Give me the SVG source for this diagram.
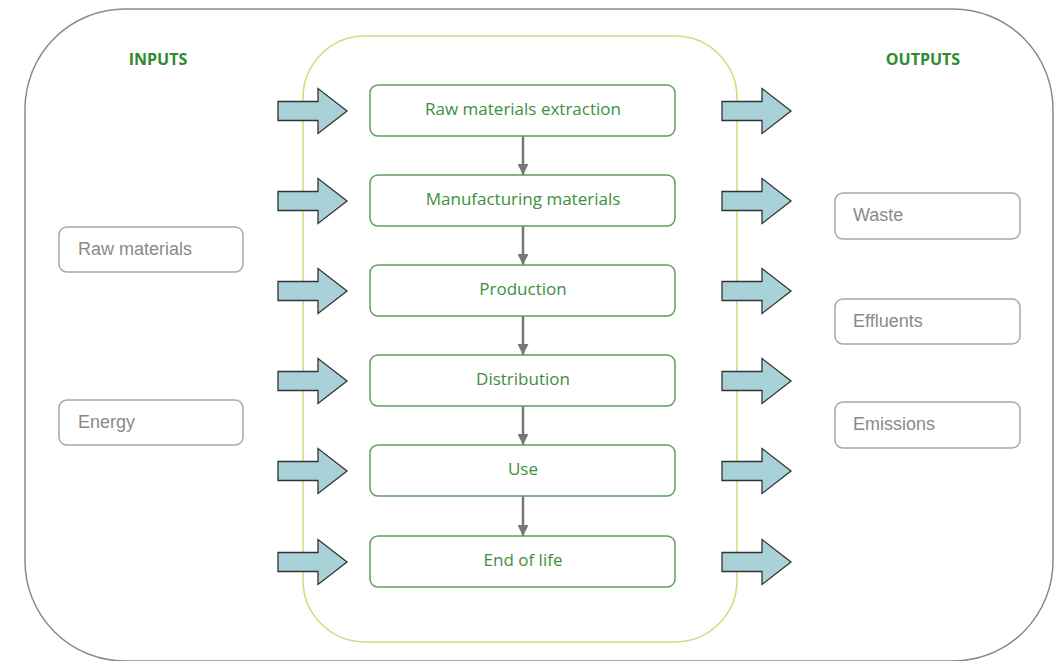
<svg xmlns="http://www.w3.org/2000/svg" width="1059" height="661" viewBox="0 0 1059 661">
<style>
.outer{fill:#fff;stroke:#8a8a8a;stroke-width:1.5}
.inner{fill:none;stroke:#cfdc80;stroke-width:1.5}
.step{fill:#fff;stroke:#5f9e5f;stroke-width:1.5}
.io{fill:#fff;stroke:#a8a8a8;stroke-width:1.5}
.steptxt{font-family:"Open Sans","Liberation Sans",sans-serif;font-size:17px;fill:#3d8f3d;text-anchor:middle}
.iotxt{font-family:"Liberation Sans",Arial,sans-serif;font-size:18px;fill:#8a8a8a}
.title{font-family:"Open Sans","Liberation Sans",sans-serif;font-size:16px;font-weight:bold;fill:#2e8b2e;text-anchor:middle}
.blk{fill:#a8d2d8;stroke:#333;stroke-width:1.3;stroke-linejoin:miter}
.conn{stroke:#777;stroke-width:2.5;fill:none}
</style>
<defs>
<marker id="ah" viewBox="0 0 10 10" refX="10" refY="5" markerWidth="4.4" markerHeight="4.4" orient="auto" markerUnits="strokeWidth">
<path d="M0,0 L10,5 L0,10 z" fill="#777"/>
</marker>
<path id="blockArrow" d="M0,-9.5 L40,-9.5 L40,-22.5 L69,0 L40,22.5 L40,9.5 L0,9.5 Z"/>
</defs>

<g id="frame">
<rect class="outer" x="25" y="9" width="1028" height="652" rx="100" ry="100"/>
<rect class="inner" x="303" y="36" width="434" height="606" rx="62" ry="62"/>
</g>

<g id="titles">
<text class="title" x="158" y="65">INPUTS</text>
<text class="title" x="923" y="65">OUTPUTS</text>
</g>

<g id="input-arrows">
<use href="#blockArrow" class="blk" x="278" y="111"/>
<use href="#blockArrow" class="blk" x="278" y="201"/>
<use href="#blockArrow" class="blk" x="278" y="291"/>
<use href="#blockArrow" class="blk" x="278" y="381"/>
<use href="#blockArrow" class="blk" x="278" y="471"/>
<use href="#blockArrow" class="blk" x="278" y="562"/>
</g>

<g id="output-arrows">
<use href="#blockArrow" class="blk" x="722" y="111"/>
<use href="#blockArrow" class="blk" x="722" y="201"/>
<use href="#blockArrow" class="blk" x="722" y="291"/>
<use href="#blockArrow" class="blk" x="722" y="381"/>
<use href="#blockArrow" class="blk" x="722" y="471"/>
<use href="#blockArrow" class="blk" x="722" y="562"/>
</g>

<g id="connectors">
<line class="conn" x1="523" y1="136" x2="523" y2="175" marker-end="url(#ah)"/>
<line class="conn" x1="523" y1="226" x2="523" y2="265" marker-end="url(#ah)"/>
<line class="conn" x1="523" y1="316" x2="523" y2="355" marker-end="url(#ah)"/>
<line class="conn" x1="523" y1="406" x2="523" y2="445" marker-end="url(#ah)"/>
<line class="conn" x1="523" y1="496" x2="523" y2="536" marker-end="url(#ah)"/>
</g>

<g id="step-raw-extraction">
<rect class="step" x="370" y="85" width="305" height="51" rx="8"/>
<text class="steptxt" x="523" y="115">Raw materials extraction</text>
</g>
<g id="step-manufacturing">
<rect class="step" x="370" y="175" width="305" height="51" rx="8"/>
<text class="steptxt" x="523" y="205">Manufacturing materials</text>
</g>
<g id="step-production">
<rect class="step" x="370" y="265" width="305" height="51" rx="8"/>
<text class="steptxt" x="523" y="295">Production</text>
</g>
<g id="step-distribution">
<rect class="step" x="370" y="355" width="305" height="51" rx="8"/>
<text class="steptxt" x="523" y="385">Distribution</text>
</g>
<g id="step-use">
<rect class="step" x="370" y="445" width="305" height="51" rx="8"/>
<text class="steptxt" x="523" y="475">Use</text>
</g>
<g id="step-end-of-life">
<rect class="step" x="370" y="536" width="305" height="51" rx="8"/>
<text class="steptxt" x="523" y="566">End of life</text>
</g>

<g id="input-raw-materials">
<rect class="io" x="59" y="227" width="184" height="45" rx="8"/>
<text class="iotxt" x="78" y="255">Raw materials</text>
</g>
<g id="input-energy">
<rect class="io" x="59" y="400" width="184" height="45" rx="8"/>
<text class="iotxt" x="78" y="428">Energy</text>
</g>

<g id="output-waste">
<rect class="io" x="835" y="193" width="185" height="46" rx="8"/>
<text class="iotxt" x="853" y="221">Waste</text>
</g>
<g id="output-effluents">
<rect class="io" x="835" y="299" width="185" height="45" rx="8"/>
<text class="iotxt" x="853" y="327">Effluents</text>
</g>
<g id="output-emissions">
<rect class="io" x="835" y="402" width="185" height="46" rx="8"/>
<text class="iotxt" x="853" y="430">Emissions</text>
</g>
</svg>
